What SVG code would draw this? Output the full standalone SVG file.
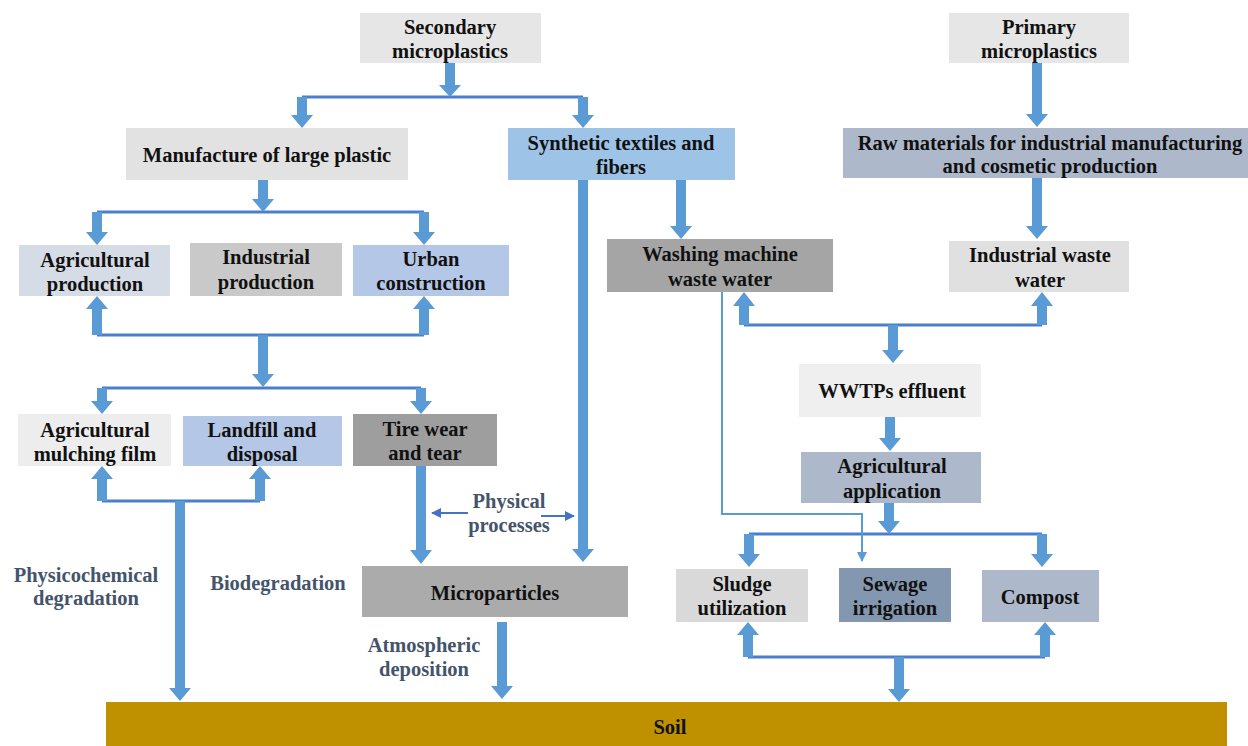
<svg xmlns="http://www.w3.org/2000/svg" width="1248" height="746" viewBox="0 0 1248 746">
<style>
text{font-family:'Liberation Serif','Times New Roman',serif;font-weight:700;font-size:20.5px;fill:#111;text-anchor:middle}
.lbl{fill:#44546a}
.arr{fill:#5b9bd5}
.hl{stroke:#4a7fd0;stroke-width:3;fill:none}
.thin{stroke:#5b9bd5;stroke-width:2;fill:none}
.thin2{stroke:#4472c4;stroke-width:2;fill:none}
</style>
<defs>
<marker id="ah" viewBox="0 0 10 10" refX="9" refY="5" markerWidth="5" markerHeight="5" orient="auto"><path d="M0,0 L10,5 L0,10 Z" fill="#5b9bd5"/></marker>
<marker id="ah2" viewBox="0 0 10 10" refX="9" refY="5" markerWidth="5" markerHeight="5" orient="auto"><path d="M0,0 L10,5 L0,10 Z" fill="#4472c4"/></marker>
</defs>
<rect width="1248" height="746" fill="#fff"/>

<g id="connectors">
<path class="hl" d="M302,97 H583"/>
<path class="hl" d="M97,212 H424"/>
<path class="hl" d="M97,335 H424"/>
<path class="hl" d="M102,388 H421"/>
<path class="hl" d="M102,501 H260"/>
<path class="hl" d="M744,325 H1042"/>
<path class="hl" d="M749,534 H1042"/>
<path class="hl" d="M748,657 H1045"/>
<path class="arr" d="M445,63 H455 V85 H461 L450,97 L439,85 H445 Z"/>
<path class="arr" d="M297,97 H307 V115 H313 L302,128 L291,115 H297 Z"/>
<path class="arr" d="M578,97 H588 V115 H594 L583,128 L572,115 H578 Z"/>
<path class="arr" d="M258,180 H268 V199 H274 L263,212 L252,199 H258 Z"/>
<path class="arr" d="M92,212 H102 V232 H108 L97,245 L86,232 H92 Z"/>
<path class="arr" d="M419,212 H429 V232 H435 L424,245 L413,232 H419 Z"/>
<path class="arr" d="M258,335 H268 V374 H274 L263,387 L252,374 H258 Z"/>
<path class="arr" d="M97,388 H107 V401 H113 L102,414 L91,401 H97 Z"/>
<path class="arr" d="M416,388 H426 V401 H432 L421,414 L410,401 H416 Z"/>
<path class="arr" d="M175,501 H185 V688 H191 L180,701 L169,688 H175 Z"/>
<path class="arr" d="M416,466 H426 V550 H432 L421,564 L410,550 H416 Z"/>
<path class="arr" d="M578,180 H588 V549 H594 L583,562 L572,549 H578 Z"/>
<path class="arr" d="M497,622 H507 V686 H513 L502,699 L491,686 H497 Z"/>
<path class="arr" d="M1032,63 H1042 V114 H1048 L1037,127 L1026,114 H1032 Z"/>
<path class="arr" d="M1032,178 H1042 V226 H1048 L1037,239 L1026,226 H1032 Z"/>
<path class="arr" d="M676,180 H686 V226 H692 L681,239 L670,226 H676 Z"/>
<path class="arr" d="M888,325 H898 V350 H904 L893,363 L882,350 H888 Z"/>
<path class="arr" d="M885,417 H895 V438 H901 L890,451 L879,438 H885 Z"/>
<path class="arr" d="M884,503 H894 V521 H900 L889,534 L878,521 H884 Z"/>
<path class="arr" d="M744,534 H754 V554 H760 L749,567 L738,554 H744 Z"/>
<path class="arr" d="M1037,534 H1047 V554 H1053 L1042,567 L1031,554 H1037 Z"/>
<path class="arr" d="M894,657 H904 V689 H910 L899,702 L888,689 H894 Z"/>
<path class="arr" d="M92,335 H102 V309 H108 L97,296 L86,309 H92 Z"/>
<path class="arr" d="M419,335 H429 V309 H435 L424,296 L413,309 H419 Z"/>
<path class="arr" d="M97,501 H107 V479 H113 L102,466 L91,479 H97 Z"/>
<path class="arr" d="M255,501 H265 V479 H271 L260,466 L249,479 H255 Z"/>
<path class="arr" d="M739,325 H749 V306 H755 L744,292 L733,306 H739 Z"/>
<path class="arr" d="M1037,325 H1047 V306 H1053 L1042,292 L1031,306 H1037 Z"/>
<path class="arr" d="M743,657 H753 V635 H759 L748,622 L737,635 H743 Z"/>
<path class="arr" d="M1040,657 H1050 V635 H1056 L1045,622 L1034,635 H1040 Z"/>
<path class="thin" d="M722,292 V514 H862 V561" marker-end="url(#ah)"/>
<path class="thin2" d="M468,513 H432" marker-end="url(#ah2)"/>
<path class="thin2" d="M541,516 H574" marker-end="url(#ah2)"/>
</g>

<g id="secondary"><rect x="360" y="13" width="181" height="50" fill="#e6e6e6"/><text x="450" y="34">Secondary</text><text x="450" y="58">microplastics</text></g>
<g id="primary"><rect x="949" y="13" width="180" height="50" fill="#e6e6e6"/><text x="1039" y="34">Primary</text><text x="1039" y="58">microplastics</text></g>
<g id="manufacture"><rect x="126" y="128" width="282" height="52" fill="#e2e2e2"/><text x="267" y="162">Manufacture of large plastic</text></g>
<g id="synthetic"><rect x="508" y="128" width="227" height="52" fill="#9dc3e6"/><text x="621" y="150">Synthetic textiles and</text><text x="621" y="174">fibers</text></g>
<g id="raw"><rect x="843" y="128" width="405" height="50" fill="#adb9ca"/><text x="1050" y="150">Raw materials for industrial manufacturing</text><text x="1050" y="173">and cosmetic production</text></g>
<g id="agri-prod"><rect x="19" y="245" width="151" height="51" fill="#d6dce5"/><text x="95" y="267">Agricultural</text><text x="95" y="291">production</text></g>
<g id="ind-prod"><rect x="190" y="243" width="152" height="53" fill="#c9c9c9"/><text x="266" y="264">Industrial</text><text x="266" y="289">production</text></g>
<g id="urban"><rect x="353" y="245" width="156" height="51" fill="#b4c7e7"/><text x="431" y="266">Urban</text><text x="431" y="290">construction</text></g>
<g id="washing"><rect x="607" y="239" width="226" height="53" fill="#a5a5a5"/><text x="720" y="261">Washing machine</text><text x="720" y="286">waste water</text></g>
<g id="ind-waste"><rect x="949" y="241" width="180" height="51" fill="#e0e0e0"/><text x="1040" y="262">Industrial waste</text><text x="1040" y="287">water</text></g>
<g id="wwtps"><rect x="799" y="364" width="182" height="53" fill="#efefef"/><text x="892" y="398">WWTPs effluent</text></g>
<g id="agri-app"><rect x="801" y="452" width="180" height="51" fill="#adb9ca"/><text x="892" y="473">Agricultural</text><text x="892" y="498">application</text></g>
<g id="mulching"><rect x="18" y="414" width="153" height="52" fill="#ededed"/><text x="95" y="437">Agricultural</text><text x="95" y="461">mulching film</text></g>
<g id="landfill"><rect x="183" y="416" width="159" height="50" fill="#b4c7e7"/><text x="262" y="437">Landfill and</text><text x="262" y="461">disposal</text></g>
<g id="tire"><rect x="353" y="414" width="144" height="52" fill="#9e9e9e"/><text x="425" y="436">Tire wear</text><text x="425" y="460">and tear</text></g>
<g id="microparticles"><rect x="362" y="566" width="266" height="51" fill="#ababab"/><text x="495" y="600">Microparticles</text></g>
<g id="sludge"><rect x="676" y="569" width="132" height="53" fill="#d9d9d9"/><text x="742" y="591">Sludge</text><text x="742" y="615">utilization</text></g>
<g id="sewage"><rect x="839" y="568" width="112" height="54" fill="#8497b0"/><text x="895" y="591">Sewage</text><text x="895" y="615">irrigation</text></g>
<g id="compost"><rect x="982" y="570" width="117" height="52" fill="#adb9ca"/><text x="1040" y="604">Compost</text></g>
<g id="soil"><rect x="106" y="702" width="1121" height="44" fill="#bf9000"/><text x="670" y="734">Soil</text></g>

<g id="labels">
<text class="lbl" x="86" y="582">Physicochemical</text><text class="lbl" x="86" y="605">degradation</text>
<text class="lbl" x="278" y="590">Biodegradation</text>
<text class="lbl" x="509" y="508">Physical</text><text class="lbl" x="509" y="532">processes</text>
<text class="lbl" x="424" y="652">Atmospheric</text><text class="lbl" x="424" y="676">deposition</text>
</g>
</svg>
